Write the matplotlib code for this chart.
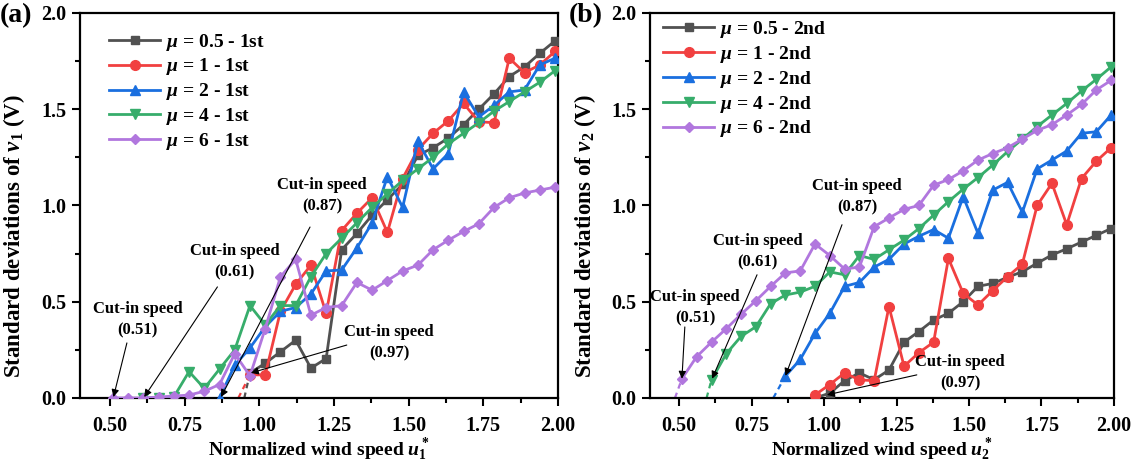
import matplotlib
matplotlib.use('Agg')
import matplotlib.pyplot as plt
from matplotlib.ticker import MultipleLocator

plt.rcParams['font.family'] = ['Liberation Serif', 'DejaVu Serif']
plt.rcParams['font.weight'] = 'bold'
plt.rcParams['axes.labelweight'] = 'bold'
plt.rcParams['mathtext.fontset'] = 'custom'
plt.rcParams['mathtext.rm'] = 'Liberation Serif:bold'
plt.rcParams['mathtext.it'] = 'Liberation Serif:italic:bold'
plt.rcParams['mathtext.bf'] = 'Liberation Serif:bold'

# normalized wind speed grid shared by all curves
u = [0.510, 0.561, 0.612, 0.663, 0.714, 0.765, 0.816, 0.867, 0.918, 0.969,
     1.020, 1.071, 1.122, 1.173, 1.224, 1.276, 1.327, 1.378, 1.429, 1.480,
     1.531, 1.582, 1.633, 1.684, 1.735, 1.786, 1.837, 1.888, 1.939, 1.990]

mu_labels = ['0.5', '1', '2', '4', '6']
start_idx = [9, 9, 7, 2, 0]

# (a) first mode
a_05 = [0.13, 0.18, 0.24, 0.30, 0.155, 0.205, 0.77, 0.855, 0.95, 1.03, 1.11,
        1.26, 1.30, 1.35, 1.42, 1.50, 1.58, 1.67, 1.72, 1.79, 1.855]
a_1 = [0.12, 0.12, 0.45, 0.59, 0.69, 0.44, 0.87, 0.96, 1.04, 0.86, 1.14,
       1.29, 1.375, 1.44, 1.53, 1.435, 1.43, 1.765, 1.69, 1.73, 1.80]
a_2 = [0.0, 0.17, 0.26, 0.37, 0.45, 0.47, 0.54, 0.66, 0.665, 0.78, 0.91, 1.15,
       0.99, 1.335, 1.19, 1.27, 1.59, 1.46, 1.52, 1.59, 1.60, 1.73, 1.765]
a_4 = [0.0, 0.0, 0.005, 0.137, 0.05, 0.15, 0.25, 0.48, 0.38, 0.48, 0.48, 0.63,
       0.75, 0.83, 0.91, 0.99, 1.06, 1.13, 1.19, 1.25, 1.32, 1.375, 1.43, 1.49,
       1.54, 1.59, 1.64, 1.70]
a_6 = [0.0, 0.0, 0.0, 0.005, 0.01, 0.015, 0.035, 0.07, 0.23, 0.115, 0.36, 0.63,
       0.72, 0.43, 0.47, 0.48, 0.60, 0.56, 0.61, 0.66, 0.69, 0.77, 0.82, 0.865,
       0.905, 0.99, 1.04, 1.065, 1.08, 1.095]

# (b) second mode
b_05 = [0.0, 0.025, 0.09, 0.13, 0.095, 0.145, 0.29, 0.345, 0.405, 0.44, 0.50,
        0.58, 0.595, 0.627, 0.656, 0.70, 0.743, 0.775, 0.81, 0.845, 0.88]
b_1 = [0.016, 0.07, 0.13, 0.094, 0.09, 0.475, 0.165, 0.235, 0.29, 0.725, 0.544,
       0.483, 0.558, 0.63, 0.696, 1.00, 1.115, 0.90, 1.14, 1.23, 1.30]
b_2 = [0.114, 0.20, 0.335, 0.44, 0.58, 0.60, 0.68, 0.72, 0.80, 0.84, 0.875,
       0.83, 1.046, 0.855, 1.08, 1.12, 0.965, 1.19, 1.236, 1.283, 1.375, 1.383, 1.47]
b_4 = [0.094, 0.23, 0.32, 0.37, 0.49, 0.535, 0.55, 0.58, 0.655, 0.64, 0.74, 0.72,
       0.77, 0.82, 0.88, 0.95, 1.02, 1.085, 1.145, 1.21, 1.28, 1.345, 1.41, 1.47,
       1.53, 1.595, 1.655, 1.72]
b_6 = [0.10, 0.215, 0.29, 0.36, 0.435, 0.505, 0.58, 0.65, 0.66, 0.80, 0.74, 0.67,
       0.68, 0.89, 0.935, 0.98, 1.0, 1.105, 1.135, 1.18, 1.236, 1.27, 1.30, 1.345,
       1.39, 1.42, 1.47, 1.525, 1.60, 1.65]

# dashed extrapolation to zero: (series index, x where it meets 0)
ext_a = [(0, 0.95), (1, 0.93)]
ext_b = [(4, 0.486), (3, 0.595), (2, 0.825)]

colors = ['#515151', '#F14040', '#1A6FDF', '#37AD6B', '#B177DE']
markers = ['s', 'o', '^', 'v', 'D']
msizes = [6, 7, 7, 7, 5.5]

fig = plt.figure(figsize=(11.38, 4.67), dpi=100)
ax1 = fig.add_axes([0.0703, 0.1478, 0.4200, 0.8244])
ax2 = fig.add_axes([0.5712, 0.1478, 0.4077, 0.8244])


def draw(ax, series, suffix, ext, leg_anchor):
    for i, ys in enumerate(series):
        xs = u[start_idx[i]:start_idx[i] + len(ys)]
        ax.plot(xs, ys, color=colors[i], marker=markers[i], ms=msizes[i], lw=2,
                label=r'$\mu$ = ' + mu_labels[i] + ' - ' + suffix, zorder=3 + i)
    for i, x0 in ext:
        ax.plot([x0, u[start_idx[i]]], [0, series[i][0]], ls=(0, (2.5, 2)),
                color=colors[i], lw=1.6, zorder=2)
    ax.set_xlim(0.4, 2.0)
    ax.set_ylim(0, 2.0)
    ax.xaxis.set_minor_locator(MultipleLocator(0.125))
    ax.yaxis.set_minor_locator(MultipleLocator(0.25))
    ax.set_xticks([0.5, 0.75, 1.0, 1.25, 1.5, 1.75, 2.0])
    ax.set_xticklabels(['0.50', '0.75', '1.00', '1.25', '1.50', '1.75', '2.00'])
    ax.set_yticks([0, 0.5, 1.0, 1.5, 2.0])
    ax.set_yticklabels(['0.0', '0.5', '1.0', '1.5', '2.0'])
    ax.tick_params(which='major', direction='out', length=6, width=1.5, labelsize=14.5)
    ax.tick_params(axis='x', which='major', pad=7)
    ax.tick_params(axis='y', which='major', pad=4)
    ax.tick_params(which='minor', direction='out', length=3.5, width=1.5)
    for s in ax.spines.values():
        s.set_linewidth(1.6)
    ax.legend(loc='upper left', frameon=False, fontsize=14, handlelength=2.6,
              handletextpad=0.3, labelspacing=0.2, borderaxespad=0.0,
              bbox_to_anchor=leg_anchor)


def note(ax, txt, tx, ty, x0, y0, x1, y1):
    ax.text(tx, ty, txt, ha='center', va='center', fontsize=12,
            fontweight='bold', linespacing=1.45, zorder=10)
    ax.annotate('', xy=(x1, y1), xytext=(x0, y0),
                arrowprops=dict(arrowstyle='-|>', color='k', lw=0.8,
                                mutation_scale=11, shrinkA=0, shrinkB=0), zorder=10)


draw(ax1, [a_05, a_1, a_2, a_4, a_6], '1st', ext_a, (0.045, 0.972))
draw(ax2, [b_05, b_1, b_2, b_4, b_6], '2nd', ext_b, (0.012, 1.005))

note(ax1, 'Cut-in speed\n(0.51)', 0.593, 0.405, 0.557, 0.286, 0.512, 0.005)
note(ax1, 'Cut-in speed\n(0.61)', 0.917, 0.706, 0.860, 0.577, 0.615, 0.005)
note(ax1, 'Cut-in speed\n(0.87)', 1.210, 1.050, 1.170, 0.888, 0.872, 0.005)
note(ax1, 'Cut-in speed\n(0.97)', 1.435, 0.286, 1.293, 0.275, 0.972, 0.13)

note(ax2, 'Cut-in speed\n(0.51)', 0.555, 0.467, 0.520, 0.369, 0.510, 0.10)
note(ax2, 'Cut-in speed\n(0.61)', 0.772, 0.760, 0.769, 0.640, 0.614, 0.10)
note(ax2, 'Cut-in speed\n(0.87)', 1.114, 1.045, 1.062, 0.900, 0.867, 0.115)
note(ax2, 'Cut-in speed\n(0.97)', 1.469, 0.130, 1.320, 0.120, 1.010, 0.016)

ax1.set_xlabel(r'Normalized wind speed $u_1^*$', fontsize=14)
ax2.set_xlabel(r'Normalized wind speed $u_2^*$', fontsize=14)
ax1.set_ylabel(r'Standard deviations of $v_1$ (V)', fontsize=16.5)
ax2.set_ylabel(r'Standard deviations of $v_2$ (V)', fontsize=16.5)
ax1.xaxis.set_label_coords(0.5, -0.1)
ax2.xaxis.set_label_coords(0.5, -0.1)
ax1.yaxis.set_label_coords(-0.11, 0.42)
ax2.yaxis.set_label_coords(-0.112, 0.42)

fig.text(0.0, 0.967, '(a)', fontsize=20, fontweight='bold', va='center')
fig.text(0.5, 0.967, '(b)', fontsize=20, fontweight='bold', va='center')

fig.savefig('out.png', dpi=100)
